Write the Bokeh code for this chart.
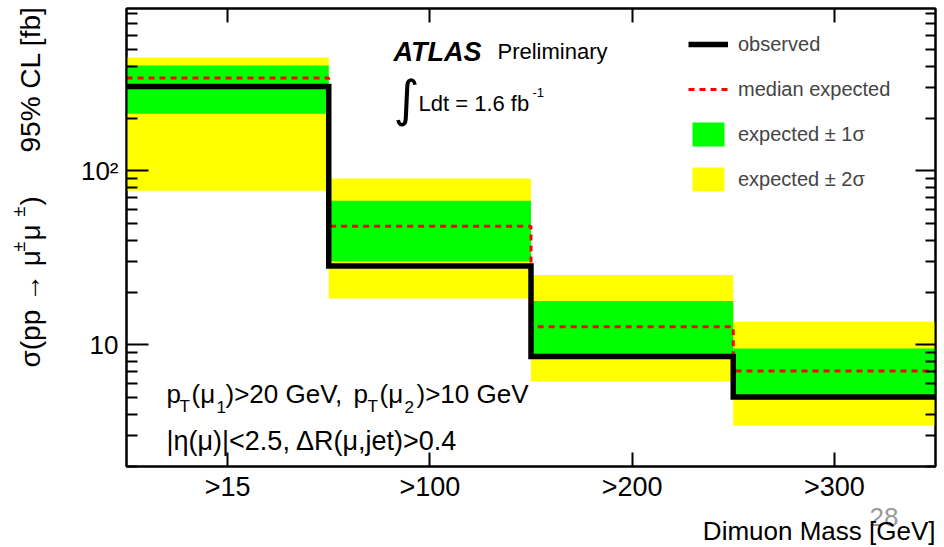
import math
from bokeh.plotting import figure
from bokeh.layouts import row
from bokeh.models import (Range1d, FixedTicker, LinearAxis, LogAxis, Label,
                          Legend, LegendItem, Title)
from bokeh.embed import file_html
from bokeh.resources import INLINE

# ---------------- data ----------------
mass_bins = [">15", ">100", ">200", ">300"]
observed = [306, 28.4, 8.57, 5.01]
expected = [342, 48.0, 12.7, 7.08]
sig1_lo = [213, 30.3, 8.85, 5.17]
sig1_hi = [404, 67.3, 17.9, 9.53]
sig2_lo = [76.8, 18.5, 6.15, 3.44]
sig2_hi = [448, 90.5, 25.2, 13.6]
y_major = [10, 100]
y_major_labels = ["10", "10\u00b2"]

n = len(mass_bins)
edges = list(range(n + 1))
left = edges[:-1]
right = edges[1:]
centers = [e + 0.5 for e in left]

FONT = "Liberation Sans"
W, H = 944, 547
LW = 70            # width of left title strip
FL, FR, FT, FB = 126, 935, 8, 466   # frame box in page pixels

p = figure(width=W - LW, height=H, x_range=Range1d(0, n),
           y_range=Range1d(2.0, 858), y_axis_type="log", output_backend="svg",
           toolbar_location=None, min_border_left=FL - LW,
           min_border_right=W - FR, min_border_top=FT, min_border_bottom=H - FB)
p.xgrid.visible = False
p.ygrid.visible = False
p.outline_line_color = "black"
p.outline_line_width = 2
p.background_fill_color = "white"
p.border_fill_color = "white"

# bands
r2 = p.quad(left=left, right=right, bottom=sig2_lo, top=sig2_hi,
            fill_color="#ffff00", line_color=None)
r1 = p.quad(left=left, right=right, bottom=sig1_lo, top=sig1_hi,
            fill_color="#00ff00", line_color=None)
rexp = p.step(x=edges, y=expected + [expected[-1]], mode="after",
              line_color="#ff0000", line_width=3, line_dash="6 5")
robs = p.step(x=edges, y=observed + [observed[-1]], mode="after",
              line_color="black", line_width=5.5, line_join="miter")

# axes
minor = [v * d for d in (1, 10, 100) for v in range(2, 10)]
yt = FixedTicker(ticks=y_major, minor_ticks=minor)
xt = FixedTicker(ticks=centers)

xa = p.xaxis[0]
xa.ticker = xt
xa.major_label_overrides = {c: lab for c, lab in zip(centers, mass_bins)}
xa.major_tick_in = 14
xa.major_tick_out = 0
xa.minor_tick_line_color = None
xa.axis_line_width = 2
xa.major_tick_line_width = 2
xa.major_label_text_font = FONT
xa.major_label_text_font_size = "27px"
xa.major_label_text_color = "black"
xa.major_label_standoff = 5

ya = p.yaxis[0]
ya.ticker = yt
ya.major_label_overrides = {v: lab for v, lab in zip(y_major, y_major_labels)}
ya.major_tick_in = 22
ya.major_tick_out = 0
ya.minor_tick_in = 11
ya.minor_tick_out = 0
ya.axis_line_width = 2
ya.major_tick_line_width = 2
ya.minor_tick_line_width = 2
ya.major_label_text_font = FONT
ya.major_label_text_font_size = "26px"
ya.major_label_text_color = "black"
ya.major_label_standoff = 8

top_axis = LinearAxis(ticker=xt, major_label_text_font_size="1px",
                      major_label_text_color=None,
                      major_label_standoff=0, major_tick_in=14, major_tick_out=0,
                      minor_tick_line_color=None, axis_line_width=2,
                      major_tick_line_width=2)
p.add_layout(top_axis, "above")
right_axis = LogAxis(ticker=yt, major_label_text_font_size="1px",
                     major_label_text_color=None,
                     major_label_standoff=0, major_tick_in=20, major_tick_out=0,
                     minor_tick_in=10, minor_tick_out=0, axis_line_width=2,
                     major_tick_line_width=2, minor_tick_line_width=2)
p.add_layout(right_axis, "right")

# page number and x title below the x axis (standoffs tuned so rows overlap)
p.add_layout(Title(text="28", align="right", offset=37,
                   vertical_align="top", standoff=6, text_color="#999999",
                   text_font=FONT, text_font_size="26px",
                   text_font_style="normal"), "below")
p.add_layout(Title(text="Dimuon Mass [GeV]", align="right", offset=0,
                   vertical_align="top", standoff=-30, text_color="black",
                   text_font=FONT, text_font_size="26px",
                   text_font_style="normal"), "below")

# left strip for the rotated y title, frame aligned with the main frame
pl = figure(width=LW, height=H, x_range=Range1d(0, LW), y_range=Range1d(0, FB - FT),
            x_axis_location=None, y_axis_location=None, min_border_left=0,
            min_border_right=0, min_border_top=FT, min_border_bottom=H - FB,
            output_backend="svg", toolbar_location=None)
pl.xgrid.visible = False
pl.ygrid.visible = False
pl.outline_line_color = None
pl.background_fill_color = "white"
pl.border_fill_color = "white"


def mk(x, y, text, size, color="black", style="normal", align="left",
       baseline="alphabetic", angle=0.0, font=FONT):
    return Label(x=x, y=y, x_units="screen", y_units="screen",
                 text=text, text_font=font, text_font_size=f"{size}px",
                 text_color=color, text_font_style=style,
                 text_align=align, text_baseline=baseline, angle=angle)


def lab(x, y, text, size, **kw):          # inside the main frame, page coords
    p.add_layout(mk(x - FL, FB - y, text, size, **kw))


XS = -13   # offset of rotated baseline


def lab_left(x, y, text, size, **kw):     # left strip, page coords
    pl.add_layout(mk(x + XS, FB - y, text, size, **kw))


# y title (rotated)
a = math.pi / 2
lab_left(43, 367, "\u03c3(pp \u2192 \u03bc", 28, angle=a)
lab_left(31, 251, "\u00b1", 18, angle=a)
lab_left(43, 240, " \u03bc", 28, angle=a)
lab_left(31, 216, "\u00b1", 18, angle=a)
lab_left(43, 205, ")", 28, angle=a)
lab_left(43, 152, "95% CL [fb]", 28, angle=a)

# ATLAS label
lab(393, 51, "ATLAS", 27, style="bold italic")
lab(497, 51, "Preliminary", 22)
lab(406, 98, "\u222b", 50, align="center", baseline="middle", font="DejaVu Sans")
lab(418, 103, "Ldt = 1.6 fb", 22)
lab(532, 92, "-1", 13)

# cuts text
lab(166, 393, "p", 26)
lab(179, 406, "T", 17)
lab(191, 393, "(\u03bc", 26)
lab(216, 406, "1", 17)
lab(225, 393, ")>20 GeV,", 26)
lab(353, 393, "p", 26)
lab(367, 406, "T", 17)
lab(379, 393, "(\u03bc", 26)
lab(404, 406, "2", 17)
lab(416, 393, ")>10 GeV", 26)
lab(166, 440, "|\u03b7(\u03bc)|<2.5, \u0394R(\u03bc,jet)>0.4", 27)

# legend
legend = Legend(items=[LegendItem(label="observed", renderers=[robs]),
                       LegendItem(label="median expected", renderers=[rexp]),
                       LegendItem(label="expected \u00b1 1\u03c3", renderers=[r1]),
                       LegendItem(label="expected \u00b1 2\u03c3", renderers=[r2])],
                location=(688 - FL, FB - 194), glyph_width=40, glyph_height=30,
                spacing=15, label_standoff=10, padding=0, margin=0,
                border_line_color=None, background_fill_alpha=0,
                label_text_font=FONT, label_text_font_size="20px")
p.add_layout(legend, "center")

layout = row(pl, p, spacing=0)
open("out.html", "w").write(file_html(layout, INLINE))
